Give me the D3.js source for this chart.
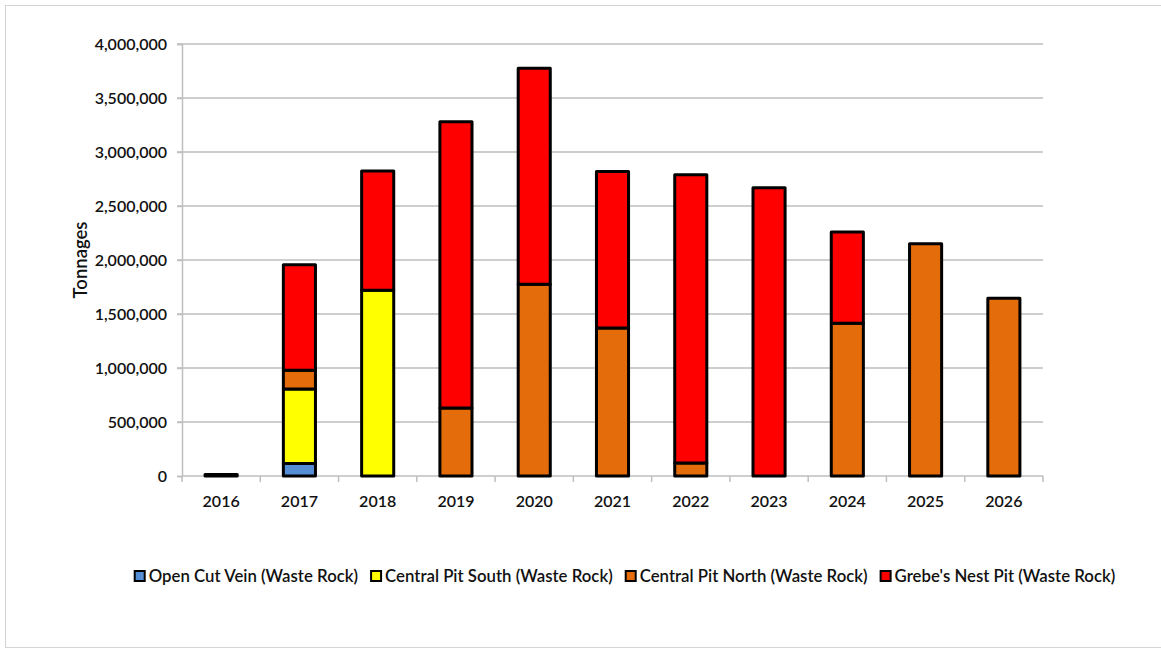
<!DOCTYPE html>
<html>
<head>
<meta charset="utf-8">
<script src="https://cdn.jsdelivr.net/npm/d3@7"></script>
<style>
  body { margin: 0; background: #fff; }
  svg { display: block; font-family: Lato, "Open Sans", sans-serif; }
</style>
</head>
<body>
<div class="main"></div>
<script>
// values (tonnes)
var years = ["2016", "2017", "2018", "2019", "2020", "2021", "2022", "2023", "2024", "2025", "2026"];
var openCutVein   = [15000, 115000, 0, 0, 0, 0, 0, 0, 0, 0, 0];
var centralSouth  = [0, 690000, 1720000, 0, 0, 0, 0, 0, 0, 0, 0];
var centralNorth  = [0, 175000, 0, 630000, 1775000, 1370000, 120000, 0, 1415000, 2150000, 1645000];
var grebesNest    = [0, 975000, 1105000, 2650000, 2000000, 1450000, 2670000, 2670000, 845000, 0, 0];
var yTicks = [0, 500000, 1000000, 1500000, 2000000, 2500000, 3000000, 3500000, 4000000];

var seriesNames = ["Open Cut Vein (Waste Rock)", "Central Pit South (Waste Rock)",
                   "Central Pit North (Waste Rock)", "Grebe's Nest Pit (Waste Rock)"];
var seriesColors = ["#558ed5", "#ffff00", "#e46c0a", "#ff0000"];

var W = 1161, H = 648;
var margin = {left: 182, right: 118, top: 44, bottom: 172};
var fontSize = 16, fontWeight = 600, textColor = "#111";

var rows = years.map(function(y, i) {
    return {year: y, s0: openCutVein[i], s1: centralSouth[i], s2: centralNorth[i], s3: grebesNest[i]};
});
var stack = d3.stack().keys(["s0", "s1", "s2", "s3"])(rows);

var svg = d3.select(".main").append("svg")
    .attr("width", W).attr("height", H);

// outer frame
svg.append("rect")
    .attr("x", 5.5).attr("y", 5.5)
    .attr("width", W + 10).attr("height", 642)
    .attr("fill", "none").attr("stroke", "#d4d4d4");

var x = d3.scaleBand().domain(years)
    .range([margin.left, W - margin.right])
    .paddingInner(0.59).paddingOuter(0.295);
var y = d3.scaleLinear().domain([0, 4000000])
    .range([H - margin.bottom, margin.top]);

// gridlines
svg.append("g").selectAll("line").data(yTicks.slice(1)).join("line")
    .attr("x1", margin.left - 5).attr("x2", W - margin.right)
    .attr("y1", function(d) { return y(d); }).attr("y2", function(d) { return y(d); })
    .attr("stroke", "#bebebe").attr("stroke-width", 1.5);

// y axis
var yAxis = svg.append("g")
    .attr("transform", "translate(" + margin.left + ",0)")
    .call(d3.axisLeft(y).tickValues(yTicks).tickSize(5).tickPadding(10).tickFormat(d3.format(",")));
yAxis.select(".domain").attr("stroke", "#bebebe").attr("stroke-width", 1.5);
yAxis.selectAll(".tick line").attr("stroke", "#bebebe").attr("stroke-width", 1.5);
yAxis.selectAll("text").attr("font-size", fontSize).attr("font-weight", fontWeight)
    .attr("fill", textColor).attr("font-family", "Lato, sans-serif");

// x axis
var xAxis = svg.append("g")
    .attr("transform", "translate(0," + y(0) + ")")
    .call(d3.axisBottom(x).tickSize(0).tickPadding(20));
xAxis.select(".domain").remove();
xAxis.selectAll("text").attr("font-size", fontSize).attr("font-weight", fontWeight)
    .attr("fill", textColor).attr("font-family", "Lato, sans-serif");
xAxis.append("line")
    .attr("x1", margin.left).attr("x2", W - margin.right)
    .attr("stroke", "#bebebe").attr("stroke-width", 1.5);
xAxis.selectAll(".cat-tick").data(d3.range(years.length + 1)).join("line")
    .attr("class", "cat-tick")
    .attr("x1", function(i) { return margin.left + i * x.step(); })
    .attr("x2", function(i) { return margin.left + i * x.step(); })
    .attr("y1", 0).attr("y2", 6)
    .attr("stroke", "#bebebe").attr("stroke-width", 1.5);

// y title
svg.append("text")
    .attr("transform", "translate(87," + ((margin.top + H - margin.bottom) / 2) + ") rotate(-90)")
    .attr("text-anchor", "middle")
    .attr("font-size", 18.5).attr("font-weight", fontWeight).attr("fill", textColor)
    .text("Tonnages");

// bars
svg.append("g").selectAll("g").data(stack).join("g")
    .attr("fill", function(d, i) { return seriesColors[i]; })
    .selectAll("rect")
    .data(function(d) { return d.filter(function(p) { return p[1] - p[0] > 0; }); })
    .join("rect")
    .attr("x", function(d) { return x(d.data.year); })
    .attr("width", x.bandwidth())
    .attr("y", function(d) { return y(d[1]); })
    .attr("height", function(d) { return y(d[0]) - y(d[1]); })
    .attr("stroke", "#000").attr("stroke-width", 3).attr("stroke-linejoin", "round");

// legend
var legend = svg.append("g").attr("transform", "translate(0,576)");
var items = legend.selectAll("g").data(seriesNames).join("g");
items.append("rect")
    .attr("x", 0).attr("y", -5).attr("width", 10).attr("height", 10)
    .attr("fill", function(d, i) { return seriesColors[i]; })
    .attr("stroke", "#000").attr("stroke-width", 2);
items.append("text")
    .attr("x", 14).attr("y", 0).attr("dy", "0.35em")
    .attr("font-size", 16.8).attr("font-weight", fontWeight).attr("fill", textColor)
    .text(function(d) { return d; });

var widths = [];
items.each(function() { widths.push(this.getBBox().width); });
var gap = 13;
var total = d3.sum(widths) + gap * (widths.length - 1);
var cx = 625, pos = cx - total / 2;
items.attr("transform", function(d, i) {
    var t = "translate(" + pos + ",0)";
    pos += widths[i] + gap;
    return t;
});
</script>
</body>
</html>
